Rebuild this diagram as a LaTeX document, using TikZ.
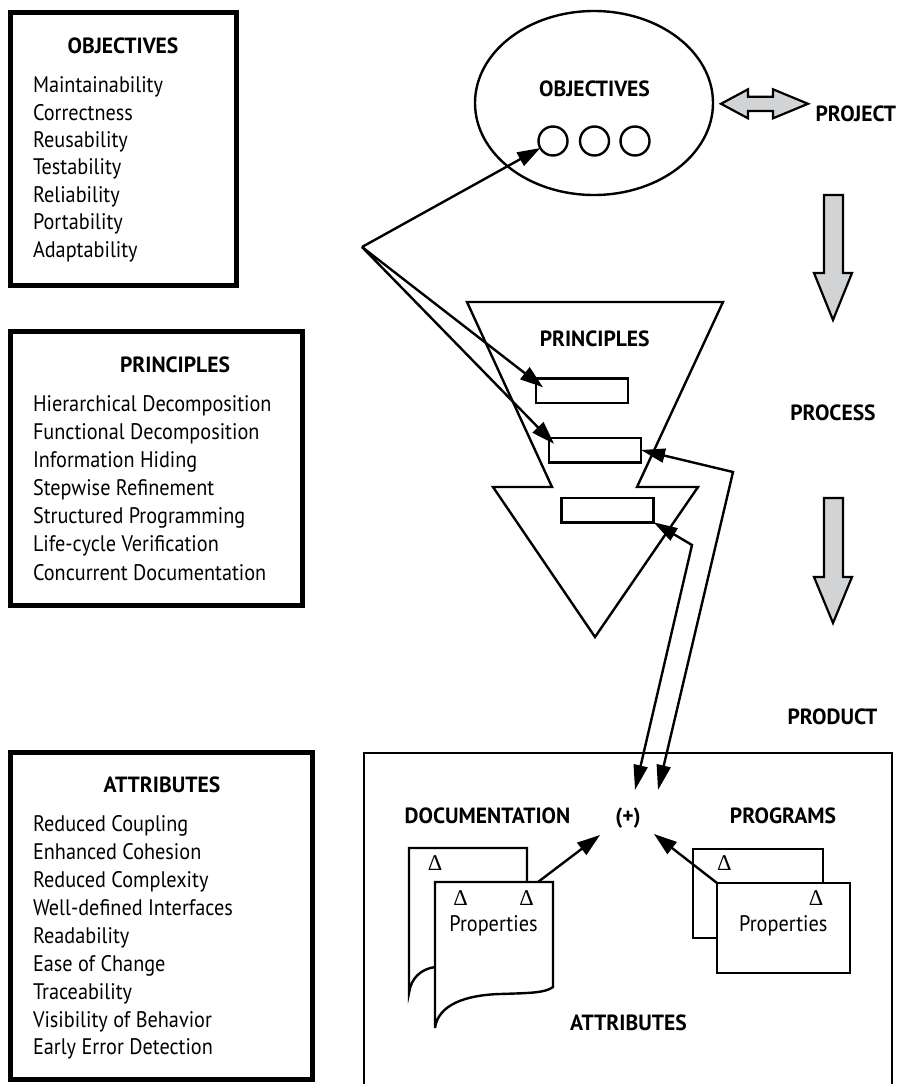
\documentclass[tikz,border=0pt]{standalone}
\usepackage{fontspec}
\setmainfont{PT Sans}[FakeStretch=0.90, BoldFeatures={FakeStretch=0.98}]
\newfontfamily\deltafont{Liberation Serif}
\usetikzlibrary{arrows.meta,shapes.geometric}
\definecolor{arrowgray}{HTML}{D1D3D4}
\newcommand{\hdfont}{\bfseries\fontsize{22}{26}\selectfont}
\newcommand{\itfont}{\fontsize{22.5}{27}\selectfont}
\newcommand{\dlfont}{\deltafont\fontsize{22.5}{22.5}\selectfont}
\begin{document}
\begin{tikzpicture}[x=1pt,y=-1pt,
  every node/.style={inner sep=0pt, outer sep=0pt},
  lbox/.style={draw, line width=5pt},
  hd/.style={font=\hdfont, anchor=base},
  item/.style={font=\itfont, anchor=base west},
  dl/.style={font=\dlfont, anchor=base},
  thin/.style={line width=2.4pt},
  smallrect/.style={draw, line width=2.5pt, fill=white, minimum width=92, minimum height=24.5},
  prog/.style={draw, line width=2.4pt, fill=white},
  arr/.style={line width=2.4pt, -{Triangle[length=23pt,width=15pt]}},
  darr/.style={line width=2.4pt, {Triangle[length=24pt,width=14pt]}-{Triangle[length=25pt,width=14pt]}},
  garrow/.style={draw, fill=arrowgray, line width=2.2pt, line join=miter},
]
\useasboundingbox (0,0) rectangle (900,1084);

% ---------- left boxes ----------
\node[lbox, minimum width=226, minimum height=273] (objbox) at (123.5,149) {};
\node[hd] (objtitle) at (123,53.3) {OBJECTIVES};
\foreach \t [count=\i] in {Maintainability,Correctness,Reusability,Testability,Reliability,Portability,Adaptability}
  \node[item] (obj\i) at (33,{92.7+27.4*(\i-1)}) {\t};

\node[lbox, minimum width=292, minimum height=274] (prinbox) at (156.5,468.5) {};
\node[hd] (printitle) at (175,372.7) {PRINCIPLES};
\foreach \t [count=\i] in {Hierarchical Decomposition,Functional Decomposition,Information Hiding,Stepwise Refinement,Structured Programming,Life-cycle Verification,Concurrent Documentation}
  \node[item] (prin\i) at (33,{411.7+28.05*(\i-1)}) {\t};

\node[lbox, minimum width=302, minimum height=327] (attrbox) at (161.5,916) {};
\node[hd] (attrtitle) at (162,792.7) {ATTRIBUTES};
\foreach \t [count=\i] in {Reduced Coupling,Enhanced Cohesion,Reduced Complexity,Well-defined Interfaces,Readability,Ease of Change,Traceability,Visibility of Behavior,Early Error Detection}
  \node[item] (attr\i) at (33,{831.7+27.9*(\i-1)}) {\t};

% ---------- objectives ellipse ----------
\node[ellipse, draw, thin, minimum width=238, minimum height=184] (ell) at (594,103) {};
\node[hd] (elltitle) at (594.5,96.7) {OBJECTIVES};
\node[circle, draw, thin, minimum size=29] (c1) at (553,141) {};
\node[circle, draw, thin, minimum size=29] (c2) at (594.5,141) {};
\node[circle, draw, thin, minimum size=29] (c3) at (635,141) {};

% double grey arrow and PROJECT
\path[garrow] (721,103.8) -- (748,89.3) -- (748,96.7) -- (773,96.7) -- (773,89.3) -- (808,103.8)
  -- (773,118.3) -- (773,111) -- (748,111) -- (748,118.3) -- cycle;
\node[hd, anchor=base east] (project) at (896,121) {PROJECT};

% down grey arrows
\path[garrow] (824,195) -- (843,195) -- (843,273) -- (852,273) -- (833,320) -- (814,273) -- (824,273) -- cycle;
\node[hd] (process) at (833,420) {PROCESS};
\path[garrow] (824,498) -- (843,498) -- (843,577) -- (852,577) -- (833,623) -- (814,577) -- (824,577) -- cycle;
\node[hd] (product) at (832.5,724.3) {PRODUCT};

% ---------- principles funnel ----------
\draw[thin, line join=miter] (467,302) -- (723,302) -- (637,487) -- (698,487) -- (595,637) -- (493,487) -- (552,487) -- cycle;
\node[hd] (funtitle) at (594.7,346.7) {PRINCIPLES};
\node[smallrect] (r1) at (582,390.5) {};
\node[smallrect] (r2) at (595,450) {};
\node[smallrect] (r3) at (607.5,510) {};

% ---------- product box ----------
\node[draw, line width=2.4pt, minimum width=528, minimum height=332, anchor=north west] (prod) at (364,753) {};
\node[hd] (doctitle) at (487.5,823.3) {DOCUMENTATION};
\node[hd] (plus) at (628,823.3) {(+)};
\node[hd] (progtitle) at (783,823.3) {PROGRAMS};
\node[hd] (prodattr) at (628.5,1030.7) {ATTRIBUTES};

% documents
\draw[line width=2.4pt] (527,882) -- (527,848) -- (409,848) -- (409,993)
  .. controls (411,978) and (421,969) .. (435,967);
\filldraw[line width=2.4pt, fill=white, line join=miter] (435,1028) -- (435,882) -- (553,882) -- (553,987)
  .. controls (545,993) and (530,993) .. (500,994)
  .. controls (465,995) and (438,1005) .. (435,1028) -- cycle;
\node[dl] (d1) at (435,870) {Δ};
\node[dl] (d2) at (460.7,905) {Δ};
\node[dl] (d3) at (526.7,905) {Δ};
\node[item, anchor=base] (docprop) at (493.5,931.7) {Properties};

% programs
\node[prog, minimum width=130, minimum height=89] (pB) at (758,893.5) {};
\node[prog, minimum width=133, minimum height=90] (pF) at (783.5,928) {};
\node[dl] (d4) at (724.3,870) {Δ};
\node[dl] (d5) at (816,905) {Δ};
\node[item, anchor=base] (progprop) at (783.3,931.7) {Properties};

% ---------- connectors ----------
\coordinate (hub) at (362,247);
\draw[arr] (hub) -- (c1);
\draw[arr] (hub) -- ([shift={(7,9)}]r1.north west);
\draw[arr] (hub) -- ([shift={(5,6)}]r2.north west);

\coordinate (bB) at (733,472);
\coordinate (eB) at (658,790);
\draw[darr, line join=miter] (r2.east) -- (bB) -- (eB);
\coordinate (bA) at (692,545);
\coordinate (eA) at (635,790);
\draw[darr, line join=miter] (r3.south east) -- (bA) -- (eA);

\coordinate (docA) at (538,882);
\coordinate (plusL) at (600,835);
\draw[arr] (docA) -- (plusL);
\coordinate (plusR) at (654,834);
\draw[arr] (pF.north west) -- (plusR);
\end{tikzpicture}
\end{document}
